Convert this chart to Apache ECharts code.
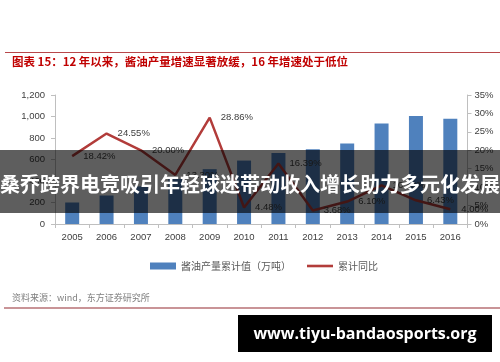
<!DOCTYPE html>
<html>
<head>
<meta charset="utf-8">
<script src="https://cdn.jsdelivr.net/npm/echarts@6/dist/echarts.min.js"></script>
<style>
html,body{margin:0;padding:0;background:#fff;}
#chart{width:500px;height:362px;}
</style>
</head>
<body>
<div id="chart"></div>
<script>
var years = ['2005','2006','2007','2008','2009','2010','2011','2012','2013','2014','2015','2016'];
var production = [200, 265, 350, 420, 510, 590, 660, 695, 750, 935, 1005, 980];
var growth = [18.42, 24.55, 20.00, 13.30, 28.86, 4.48, 16.39, 3.68, 6.10, 10.50, 6.43, 4.00];
var leftTicks = {min: 0, max: 1200, interval: 200};
var rightTicks = {min: 0, max: 35, interval: 5};
var titleText = '图表 15：12 年以来，酱油产量增速显著放缓，16 年增速处于低位';
var sourceText = '资料来源：wind，东方证券研究所';
var seriesNames = ['酱油产量累计值（万吨）', '累计同比'];
var bannerText = '桑乔跨界电竞吸引年轻球迷带动收入增长助力多元化发展';
var watermarkText = 'www.tiyu-bandaosports.org';

var chart = echarts.init(document.getElementById('chart'), null, {renderer: 'canvas'});
var axisFont = 'Liberation Sans, Arial, sans-serif';
var cjk = '"Noto Sans CJK SC", sans-serif';
var axisLineStyle = {color: '#BFBFBF', width: 1};

chart.setOption({
  animation: false,
  backgroundColor: '#ffffff',
  grid: {left: 55, right: 32.5, top: 95, bottom: 138, containLabel: false},
  legend: {
    left: 145, top: 256,
    itemWidth: 26, itemHeight: 7, itemGap: 16,
    textStyle: {fontSize: 10, color: '#595959', fontFamily: cjk},
    data: [
      {name: seriesNames[0], icon: 'rect'},
      {name: seriesNames[1], icon: 'path://M0,0H40V4H0Z'}
    ]
  },
  xAxis: {
    type: 'category',
    data: years,
    axisLine: {lineStyle: axisLineStyle},
    axisTick: {show: true, alignWithLabel: false, length: 4, lineStyle: axisLineStyle},
    axisLabel: {fontSize: 9.5, color: '#404040', fontFamily: axisFont, margin: 8}
  },
  yAxis: [
    {
      type: 'value', min: leftTicks.min, max: leftTicks.max, interval: leftTicks.interval,
      axisLine: {show: true, lineStyle: axisLineStyle},
      axisTick: {show: true, length: 4, lineStyle: axisLineStyle},
      splitLine: {show: false},
      axisLabel: {fontSize: 9.5, color: '#404040', fontFamily: axisFont, margin: 10,
        formatter: function (v) { return v.toLocaleString('en-US'); }}
    },
    {
      type: 'value', min: rightTicks.min, max: rightTicks.max, interval: rightTicks.interval,
      position: 'right',
      axisLine: {show: true, lineStyle: axisLineStyle},
      axisTick: {show: true, length: 4, lineStyle: axisLineStyle},
      splitLine: {show: false},
      axisLabel: {fontSize: 9.5, color: '#404040', fontFamily: axisFont, margin: 7,
        formatter: '{value}%'}
    }
  ],
  series: [
    {
      name: seriesNames[0], type: 'bar', data: production, barWidth: 14,
      itemStyle: {color: '#4F81BD'}, z: 2
    },
    {
      name: seriesNames[1], type: 'line', yAxisIndex: 1, data: growth,
      symbol: 'circle', symbolSize: 0.1, showSymbol: true,
      lineStyle: {color: '#B23C3A', width: 2.5},
      itemStyle: {color: '#B23C3A'},
      label: {show: true, position: 'right', distance: 11, fontSize: 9.5,
        color: '#404040', fontFamily: axisFont,
        formatter: function (p) { return p.value.toFixed(2) + '%'; }},
      labelLayout: {hideOverlap: false},
      z: 3
    }
  ],
  graphic: [
    {type: 'line', shape: {x1: 5, y1: 52.5, x2: 500, y2: 52.5}, style: {stroke: '#B8474A', lineWidth: 1}, z: 10},
    {type: 'text', left: 12, top: 56, style: {text: titleText, fill: '#C00000', font: 'bold 11.5px "Noto Sans CJK SC", sans-serif'}, z: 10},
    {type: 'text', left: 12, top: 293, style: {text: sourceText, fill: '#7F7F7F', font: '9px "Noto Sans CJK SC", sans-serif'}, z: 10},
    {type: 'rect', shape: {x: 4, y: 307, width: 496, height: 2}, style: {fill: '#C99497'}, z: 10},
    {type: 'rect', shape: {x: 0, y: 150, width: 500, height: 63}, style: {fill: 'rgba(0,0,0,0.63)'}, z: 100},
    {type: 'text', x: 250, y: 184, style: {text: bannerText, fill: '#ffffff', align: 'center', verticalAlign: 'middle', font: 'bold 20px "Noto Sans CJK SC", sans-serif'}, z: 101},
    {type: 'rect', shape: {x: 238, y: 315, width: 254, height: 37}, style: {fill: '#000000'}, z: 100},
    {type: 'text', x: 365, y: 334, style: {text: watermarkText, fill: '#ffffff', align: 'center', verticalAlign: 'middle', font: 'bold 16px "Open Sans", sans-serif'}, z: 101}
  ]
});
</script>
</body>
</html>
